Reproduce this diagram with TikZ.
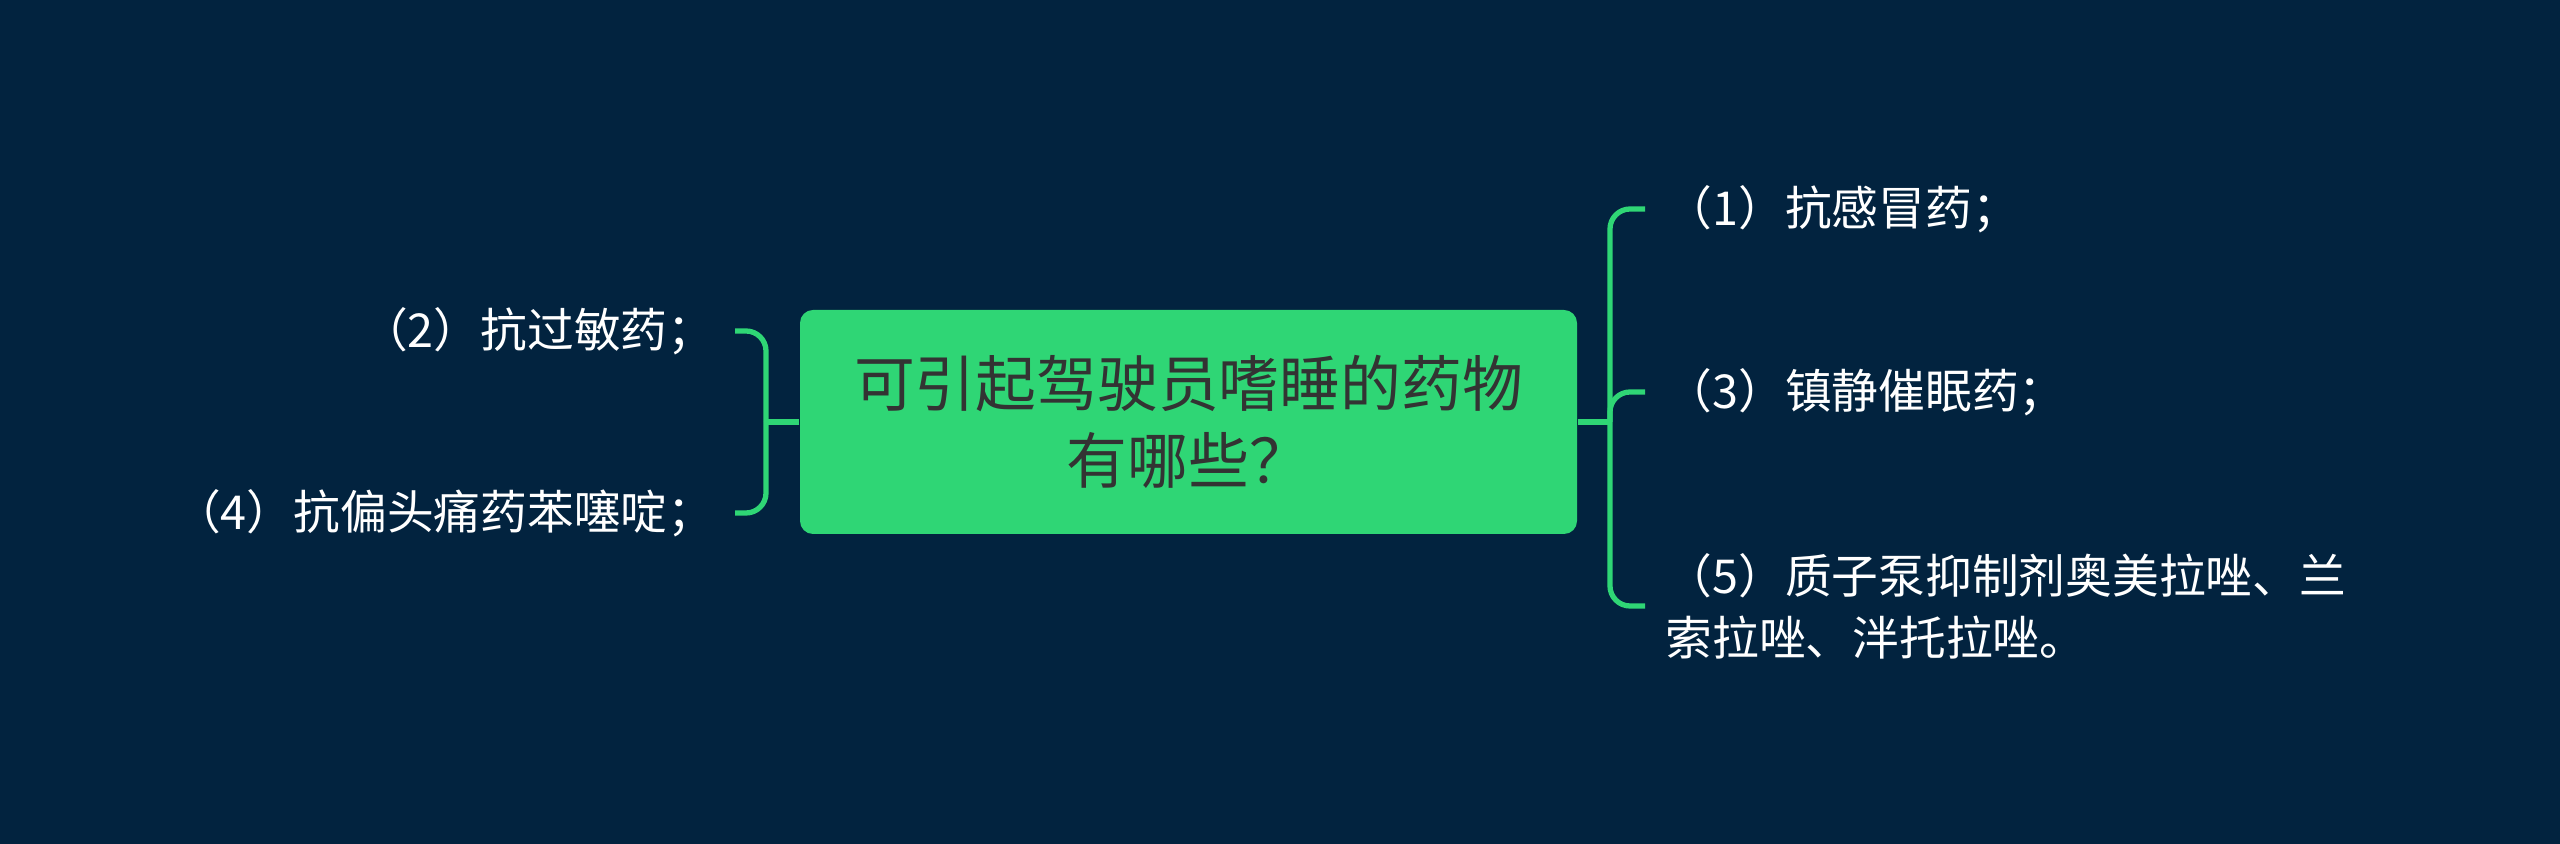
\documentclass[tikz,border=0pt]{standalone}
\usepackage{fontspec}
\newfontfamily\cjk{Noto Sans CJK SC}
\definecolor{bgnavy}{HTML}{02233F}
\definecolor{mapgreen}{HTML}{2FD675}
\definecolor{rootink}{HTML}{333333}
\begin{document}
\begin{tikzpicture}[
    link/.style={draw=mapgreen,line width=1.5pt,rounded corners=2mm},
    root/.style={fill=mapgreen,rounded corners=1.3mm,minimum width=7.77cm,minimum height=2.24cm,align=center,text=rootink,font=\cjk\fontsize{17.3}{22}\selectfont},
    leaf/.style={text=white,align=left,inner xsep=2mm,inner ysep=0pt,font=\cjk\fontsize{13.3}{17.6}\selectfont}]
      \fill[bgnavy](0,0)rectangle(25.6,-8.44);
      \node[root](q)at(11.885,-4.22){可引起驾驶员嗜睡的药物\\有哪些？};
      \node[leaf,anchor=east](a2)at(7.35,-3.31){（2）抗过敏药；};
      \node[leaf,anchor=east](a4)at(7.35,-5.13){（4）抗偏头痛药苯噻啶；};
      \node[leaf,anchor=west](a1)at(16.45,-2.09){（1）抗感冒药；};
      \node[leaf,anchor=west](a3)at(16.45,-3.92){（3）镇静催眠药；};
      \node[leaf,anchor=west](a5)at(16.45,-6.06){（5）质子泵抑制剂奥美拉唑、兰\\索拉唑、泮托拉唑。};
      \coordinate(jl)at(7.66,-4.22);
      \coordinate(jr)at(16.10,-4.22);
      \draw[link](q.west)--(jl);
      \draw[link](jl)|-(a2.east);
      \draw[link](jl)|-(a4.east);
      \draw[link](q.east)--(jr);
      \draw[link](jr)|-(a1.west);
      \draw[link](jr)|-(a3.west);
      \draw[link](jr)|-(a5.west);
    \end{tikzpicture}
\end{document}
